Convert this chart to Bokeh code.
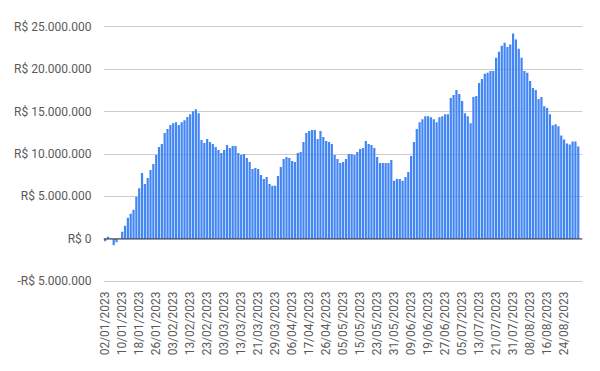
import math
from bokeh.plotting import figure
from bokeh.models import FixedTicker, CustomJSTickFormatter, Span, Range1d, ColumnDataSource
from bokeh.embed import file_html
from bokeh.resources import INLINE

# Daily values (R$ millions), Brazilian business days from 02/01/2023 to 31/08/2023
values_mi = [
    -0.27, 0.27, 0.05, -0.74, -0.39, 0.05, 0.86, 1.56, 2.50, 2.97,
    3.44, 4.96, 5.98, 7.77, 6.48, 7.19, 8.13, 8.83, 9.88, 10.82,
    11.17, 12.46, 12.93, 13.40, 13.63, 13.75, 13.40, 13.75, 13.98, 14.34,
    14.69, 15.04, 15.27, 14.80, 11.64, 11.29, 11.76, 11.40, 11.17, 10.82,
    10.47, 10.12, 10.47, 11.05, 10.70, 10.94, 10.94, 10.12, 9.88, 10.00,
    9.53, 9.06, 8.24, 8.36, 8.24, 7.54, 7.07, 7.30, 6.48, 6.25,
    6.25, 7.42, 8.48, 9.41, 9.65, 9.53, 9.18, 9.06, 10.12, 10.23,
    11.40, 12.46, 12.70, 12.81, 12.81, 11.76, 12.70, 11.99, 11.52, 11.40,
    11.17, 9.88, 9.41, 8.95, 9.06, 9.41, 10.00, 10.00, 9.88, 10.23,
    10.59, 10.70, 11.52, 11.17, 11.05, 10.70, 9.65, 8.95, 8.95, 8.95,
    8.95, 9.30, 6.84, 7.07, 7.07, 6.84, 7.30, 7.89, 9.77, 11.40,
    12.93, 13.75, 14.10, 14.45, 14.45, 14.33, 14.09, 13.74, 14.33, 14.45,
    14.68, 14.68, 16.58, 16.94, 17.53, 17.06, 16.23, 14.80, 14.45, 13.62,
    16.70, 16.82, 18.36, 18.83, 19.43, 19.55, 19.78, 19.78, 21.32, 22.04,
    22.75, 23.10, 22.60, 22.87, 24.17, 23.46, 22.39, 21.32, 19.78, 19.55,
    18.60, 17.77, 17.53, 16.46, 16.70, 15.63, 15.40, 14.68, 13.38, 13.50,
    13.26, 12.19, 11.72, 11.25, 11.13, 11.48, 11.48, 10.89,
]

tick_labels = [
    "02/01/2023", "10/01/2023", "18/01/2023", "26/01/2023", "03/02/2023",
    "13/02/2023", "23/02/2023", "03/03/2023", "13/03/2023", "21/03/2023",
    "29/03/2023", "06/04/2023", "17/04/2023", "26/04/2023", "05/05/2023",
    "15/05/2023", "23/05/2023", "31/05/2023", "09/06/2023", "19/06/2023",
    "27/06/2023", "05/07/2023", "13/07/2023", "21/07/2023", "31/07/2023",
    "08/08/2023", "16/08/2023", "24/08/2023",
]
tick_step = 6

y_ticks = [-5e6, 0, 5e6, 10e6, 15e6, 20e6, 25e6]

values = [v * 1e6 for v in values_mi]
idx = list(range(len(values)))
src = ColumnDataSource(data=dict(x=idx, top=values))

p = figure(frame_width=479, frame_height=257, output_backend="svg", toolbar_location=None,
           x_range=Range1d(-0.6, len(values) + 0.5), y_range=Range1d(-5.12e6, 25.12e6),
           min_border_left=103, min_border_right=10, min_border_top=25, min_border_bottom=80)
p.outline_line_color = None
p.background_fill_color = "white"
p.border_fill_color = "white"

p.vbar(x="x", top="top", bottom=0, width=0.78, source=src,
       fill_color="#4285F4", line_color=None)

p.add_layout(Span(location=0, dimension="width", line_color="#333333", line_width=1))

# y axis
p.yaxis.ticker = FixedTicker(ticks=y_ticks)
p.yaxis.formatter = CustomJSTickFormatter(code="""
const v = Math.round(tick);
const s = Math.abs(v).toString().replace(/\\B(?=(\\d{3})+(?!\\d))/g, ".");
return (v < 0 ? "-" : "") + "R$ " + s;
""")
p.yaxis.axis_line_color = None
p.yaxis.major_tick_line_color = None
p.yaxis.minor_tick_line_color = None
p.yaxis.major_label_text_font = "Roboto"
p.yaxis.major_label_text_font_size = "12px"
p.yaxis.major_label_text_color = "#5a5a5a"
p.yaxis.major_label_standoff = 6

# x axis
xt = [i * tick_step for i in range(len(tick_labels))]
p.xaxis.ticker = FixedTicker(ticks=xt)
p.xaxis.major_label_overrides = {t: lab for t, lab in zip(xt, tick_labels)}
p.xaxis.major_label_orientation = math.pi / 2
p.xaxis.axis_line_color = None
p.xaxis.major_tick_line_color = None
p.xaxis.minor_tick_line_color = None
p.xaxis.major_label_text_font = "Roboto"
p.xaxis.major_label_text_font_size = "12px"
p.xaxis.major_label_text_color = "#5a5a5a"
p.xaxis.major_label_standoff = 3

p.xgrid.grid_line_color = None
p.ygrid.grid_line_color = "#cccccc"
p.ygrid.grid_line_width = 1

open("out.html", "w").write(file_html(p, INLINE))
